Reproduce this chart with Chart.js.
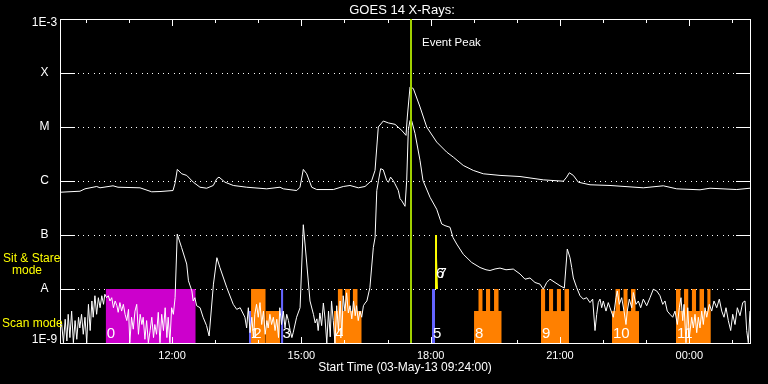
<!DOCTYPE html>
<html>
<head>
<meta charset="utf-8">
<script src="https://cdn.jsdelivr.net/npm/chart.js@4.4.1/dist/chart.umd.min.js"></script>
<style>
html,body{margin:0;padding:0;background:#000;}
canvas{display:block;}
</style>
</head>
<body>
<canvas id="c" width="768" height="384"></canvas>
<script>
// ---------------- data ----------------
const chartTitle = 'GOES 14 X-Rays:';
const xAxisTitle = 'Start Time (03-May-13 09:24:00)';
const timeRange = [9.4, 25.409];              // hours of day (09:24 -> ~01:25 next day)
const xTickHours = [12, 15, 18, 21, 24];
const xTickLabels = ['12:00', '15:00', '18:00', '21:00', '00:00'];
const yTickValues = [1e-9, 1e-8, 1e-7, 1e-6, 1e-5, 1e-4, 1e-3];
const yTickLabels = ['1E-9', 'A', 'B', 'C', 'M', 'X', '1E-3'];
const eventPeakHour = 17.537;
const eventPeakLabel = 'Event Peak';
const zoneLabels = [['Sit & Stare', 'mode'], ['Scan mode']];

// long channel (1-8 A) [hour, W/m^2]
const longChannel = [
[9.400,6.19e-7],[9.864,6.47e-7],[9.980,7.16e-7],[10.252,7.91e-7],[10.328,7.48e-7],[10.630,8.15e-7],
[10.746,7.67e-7],[11.256,7.48e-7],[11.528,6.31e-7],[11.720,6.38e-7],[12.022,6.66e-7],[12.068,8.99e-7],
[12.122,1.64e-6],[12.224,1.36e-6],[12.340,1.27e-6],[12.493,9.50e-7],[12.648,7.67e-7],[12.804,7.35e-7],
[12.957,8.26e-7],[13.036,1.10e-6],[13.089,1.18e-6],[13.228,9.50e-7],[13.421,8.26e-7],[13.732,7.67e-7],
[14.196,7.16e-7],[14.504,7.67e-7],[14.581,7.16e-7],[14.892,6.66e-7],[14.968,7.67e-7],[15.045,1.64e-6],
[15.124,1.36e-6],[15.240,7.67e-7],[15.356,6.95e-7],[15.741,6.95e-7],[15.973,7.91e-7],[16.129,8.26e-7],
[16.321,7.48e-7],[16.477,7.91e-7],[16.632,1.02e-6],[16.709,1.57e-6],[16.785,1.00e-5],[16.901,1.29e-5],
[17.017,1.19e-5],[17.173,1.12e-5],[17.328,8.67e-6],[17.428,7.00e-6],[17.458,1.53e-5],[17.521,5.53e-5],
[17.597,5.16e-5],[17.753,2.35e-5],[17.908,1.00e-5],[18.140,5.26e-6],[18.372,3.43e-6],[18.525,2.77e-6],
[18.757,1.94e-6],[18.989,1.57e-6],[19.221,1.36e-6],[19.609,1.27e-6],[20.073,1.21e-6],[20.613,1.05e-6],
[21.078,9.91e-7],[21.156,1.18e-6],[21.217,1.42e-6],[21.310,1.27e-6],[21.426,9.50e-7],[21.697,8.51e-7],
[22.161,8.26e-7],[22.934,7.48e-7],[23.398,8.15e-7],[23.709,7.16e-7],[24.249,6.87e-7],[24.481,7.35e-7],
[25.101,6.95e-7],[25.409,7.35e-7]
];

// short channel (0.5-4 A) [hour, W/m^2]
const shortChannel = [
[9.40,1.9e-9],[9.44,2.2e-9],[9.48,1.01e-9],[9.52,2.75e-9],[9.56,1.09e-9],[9.59,3.4e-9],[9.63,1.26e-9],
[9.67,3.9e-9],[9.71,1.01e-9],[9.75,2.6e-9],[9.79,1.17e-9],[9.83,3.0e-9],[9.86,1.9e-9],[9.90,3.4e-9],
[9.94,1.45e-9],[9.98,3.0e-9],[10.02,1.01e-9],[10.06,5.2e-9],[10.10,1.7e-9],[10.14,6.0e-9],[10.17,3.0e-9],
[10.21,7.5e-9],[10.25,3.4e-9],[10.29,6.9e-9],[10.33,4.5e-9],[10.37,7.5e-9],[10.41,5.2e-9],[10.44,8.0e-9],
[10.48,6.9e-9],[10.52,7.5e-9],[10.56,6.0e-9],[10.60,6.9e-9],[10.64,4.5e-9],[10.68,6.0e-9],[10.72,4.9e-9],
[10.75,3.7e-9],[10.79,5.6e-9],[10.83,3.9e-9],[10.87,5.2e-9],[10.91,3.4e-9],[10.95,2.6e-9],[10.99,4.2e-9],
[11.02,1.01e-9],[11.06,3.0e-9],[11.10,1.8e-9],[11.14,3.9e-9],[11.18,5.2e-9],[11.22,1.45e-9],[11.26,3.4e-9],
[11.30,2.2e-9],[11.33,3.0e-9],[11.37,1.17e-9],[11.41,2.6e-9],[11.45,1.01e-9],[11.49,1.7e-9],[11.53,3.0e-9],
[11.57,1.26e-9],[11.60,2.2e-9],[11.64,1.45e-9],[11.68,3.7e-9],[11.72,1.01e-9],[11.76,3.4e-9],[11.80,1.7e-9],
[11.84,4.5e-9],[11.88,1.26e-9],[11.91,3.0e-9],[11.95,1.01e-9],[11.99,4.5e-9],[12.03,3.4e-9],[12.07,6.9e-9],
[12.12,1.04e-7],[12.22,5.9e-8],[12.34,2.9e-8],[12.38,1.42e-8],[12.46,9.2e-9],[12.49,6.0e-9],[12.53,6.9e-9],
[12.57,4.9e-9],[12.65,4.5e-9],[12.72,3.0e-9],[12.80,2.1e-9],[12.86,1.35e-9],[12.96,1.23e-8],[13.04,3.8e-8],
[13.11,2.5e-8],[13.27,1.06e-8],[13.42,5.2e-9],[13.50,4.2e-9],[13.58,4.5e-9],[13.69,3.0e-9],
[13.73,1.9e-9],[13.77,4.5e-9],[13.81,1.55e-9],[13.85,3.0e-9],[13.89,1.26e-9],[13.92,3.4e-9],[13.96,5.2e-9],
[14.00,3.0e-9],[14.04,5.6e-9],[14.08,2.2e-9],[14.12,3.9e-9],[14.16,1.45e-9],[14.20,2.6e-9],[14.23,1.9e-9],
[14.27,3.4e-9],[14.31,2.2e-9],[14.35,3.0e-9],[14.39,1.7e-9],[14.43,2.75e-9],[14.47,1.26e-9],[14.50,4.5e-9],
[14.54,2.2e-9],[14.58,3.9e-9],[14.62,1.9e-9],[14.66,3.4e-9],[14.70,2.6e-9],[14.74,1.7e-9],[14.78,1.26e-9],
[14.81,1.55e-9],[14.89,3.0e-9],[14.97,4.5e-9],[15.045,1.55e-7],[15.12,3.3e-8],[15.20,6.0e-9],[15.28,3.4e-9],
[15.32,2.35e-9],[15.36,2.8e-9],[15.39,1.7e-9],[15.43,3.6e-9],[15.47,2.1e-9],[15.51,5.5e-9],[15.55,2.8e-9],
[15.59,1.0e-9],[15.63,3.9e-9],[15.67,1.3e-9],[15.70,6.0e-9],[15.74,2.6e-9],[15.78,1.0e-9],[15.82,4.9e-9],
[15.86,1.7e-9],[15.90,6.0e-9],[15.94,1.35e-9],[15.97,7.5e-9],[16.01,3.9e-9],[16.05,8.5e-9],[16.09,3.6e-9],
[16.13,4.9e-9],[16.17,2.8e-9],[16.21,6.0e-9],[16.25,3.2e-9],[16.28,4.9e-9],[16.32,2.6e-9],[16.36,3.9e-9],
[16.40,3.0e-9],[16.44,4.9e-9],[16.48,5.5e-9],[16.52,6.0e-9],[16.59,1.06e-8],[16.67,5.9e-8],[16.71,9.0e-8],
[16.75,6.66e-7],[16.79,1.02e-6],[16.84,1.69e-6],[16.90,1.61e-6],[16.98,1.02e-6],[17.02,9.5e-7],[17.07,1.18e-6],
[17.13,1.02e-6],[17.17,8.9e-7],[17.25,6.66e-7],[17.29,4.7e-7],[17.33,4.3e-7],[17.405,3.4e-7],[17.444,1.02e-6],
[17.481,8.67e-6],[17.521,1.33e-5],[17.56,1.3e-5],[17.637,7.6e-6],[17.753,2.4e-6],[17.822,1.02e-6],[17.985,5.0e-7],
[18.14,3.0e-7],[18.256,1.6e-7],[18.333,1.49e-7],[18.449,1.39e-7],[18.518,9.0e-8],[18.604,6.8e-8],[18.757,4.4e-8],
[18.952,3.1e-8],[19.145,2.5e-8],[19.284,2.27e-8],[19.377,2.2e-8],[19.493,2.35e-8],[19.609,2.44e-8],[19.748,2.27e-8],
[19.917,2.34e-8],[20.073,1.9e-8],[20.189,1.52e-8],[20.305,1.6e-8],[20.421,1.32e-8],[20.537,1.23e-8],[20.613,9.9e-9],
[20.692,1.32e-8],[20.769,1.52e-8],[20.885,1.32e-8],[21.001,1.15e-8],[21.101,1.04e-8],[21.170,5.5e-8],[21.233,3.8e-8],
[21.272,2.5e-8],[21.310,1.6e-8],[21.388,1.06e-8],[21.465,7.5e-9],[21.542,6.5e-9],[21.620,6.9e-9],[21.697,5.6e-9],
[21.759,6.5e-9],[21.813,1.7e-9],[21.852,3.4e-9],[21.889,5.6e-9],[21.929,6.5e-9],[21.968,4.5e-9],[22.005,6.0e-9],
[22.068,3.9e-9],[22.121,5.6e-9],[22.161,4.5e-9],[22.238,3.0e-9],[22.300,6.9e-9],[22.330,9.2e-9],[22.377,5.2e-9],
[22.432,6.9e-9],[22.486,3.9e-9],[22.532,2.2e-9],[22.562,3.9e-9],[22.609,6.5e-9],[22.665,4.5e-9],[22.702,8.6e-9],
[22.764,5.2e-9],[22.818,6.0e-9],[22.873,4.5e-9],[22.934,6.5e-9],[23.012,4.9e-9],[23.089,6.9e-9],[23.166,9.9e-9],
[23.245,9.2e-9],[23.321,7.5e-9],[23.384,5.2e-9],[23.437,6.0e-9],[23.490,3.9e-9],[23.553,3.4e-9],[23.616,3.0e-9],
[23.669,3.9e-9],[23.723,2.2e-9],[23.769,4.5e-9],[23.808,6.9e-9],[23.848,2.6e-9],[23.878,5.2e-9],[23.924,1.01e-9],
[23.964,4.5e-9],[24.001,1.26e-9],[24.057,3.0e-9],[24.094,1.9e-9],[24.133,3.4e-9],[24.173,1.55e-9],[24.210,3.0e-9],
[24.249,1.9e-9],[24.289,3.9e-9],[24.326,2.2e-9],[24.365,4.5e-9],[24.405,3.0e-9],[24.465,5.2e-9],[24.521,3.9e-9],
[24.574,6.0e-9],[24.637,4.5e-9],[24.697,6.5e-9],[24.753,3.9e-9],[24.806,3.0e-9],[24.852,4.5e-9],[24.906,2.6e-9],
[24.961,1.7e-9],[25.008,3.4e-9],[25.061,2.2e-9],[25.115,4.5e-9],[25.177,3.2e-9],[25.240,5.6e-9],[25.293,6.0e-9],
[25.332,1.7e-9],[25.370,1.01e-9],[25.409,3.9e-9]
];

// observing-mode segments: [kind, startHour, endHour, topLevel]
const modeSegments = [
['magenta',10.460,12.549,1e-8],
['blue',13.785,13.832,3.9e-9],
['orange',13.832,14.173,1e-8],['orange',14.173,14.504,3.9e-9],
['blue',14.528,14.581,1e-8],
['orange',15.757,16.400,3.9e-9],['orange',15.843,15.959,1e-8],['orange',16.013,16.129,1e-8],['orange',16.191,16.307,1e-8],
['blue',18.031,18.101,1e-8],
['yellow',18.101,18.147,1e-7],['yellow',18.147,18.170,3.8e-8],
['orange',19.006,19.648,3.9e-9],['orange',19.105,19.207,1e-8],['orange',19.284,19.384,1e-8],['orange',19.470,19.579,1e-8],
['orange',20.560,21.210,3.9e-9],['orange',20.560,20.660,1e-8],['orange',20.746,20.845,1e-8],['orange',20.924,21.024,1e-8],['orange',21.101,21.210,1e-8],
['orange',22.207,22.834,3.9e-9],['orange',22.284,22.393,1e-8],['orange',22.470,22.572,1e-8],['orange',22.648,22.757,1e-8],
['orange',23.692,24.497,3.9e-9],['orange',23.692,23.801,1e-8],['orange',23.878,23.982,1e-8],['orange',24.057,24.161,1e-8],['orange',24.233,24.342,1e-8],['orange',24.416,24.497,1e-8]
];
// mode numbers: [text, hour, zone]
const modeLabels = [
['0',10.46,'scan'],['1',13.80,'scan'],['2',13.86,'scan'],['3',14.54,'scan'],['4',15.757,'scan'],
['5',18.031,'scan'],['6',18.101,'stare'],['7',18.16,'stare'],['8',19.006,'scan'],['9',20.56,'scan'],
['10',22.207,'scan'],['11',23.692,'scan']
];

// ---------------- styles ----------------
const kindColor = {magenta:'#cc00cc', orange:'#ff8000', blue:'#6464ff', yellow:'#ffff00'};
const kindBase = {magenta:1e-9, orange:1e-9, blue:1e-9, yellow:1e-8};
const FONT = "'Liberation Sans', Arial, sans-serif";
Chart.defaults.font.family = FONT;
Chart.defaults.color = '#ffffff';

const toXY = arr => arr.map(p => ({x: p[0], y: p[1]}));

const datasets = [
  {data: toXY(longChannel), borderColor:'#ffffff', borderWidth:1, pointRadius:0, tension:0, fill:false, order:0},
  {data: toXY(shortChannel), borderColor:'#ffffff', borderWidth:1, pointRadius:0, tension:0, fill:false, order:0}
];
modeSegments.forEach(s => {
  datasets.push({
    data: [{x:s[1], y:s[3]}, {x:s[2], y:s[3]}],
    borderColor:'rgba(0,0,0,0)', borderWidth:0, pointRadius:0,
    backgroundColor: kindColor[s[0]], fill: {value: kindBase[s[0]]}, order: 2
  });
});

const decor = {
  id: 'decor',
  beforeDraw(chart) {
    const {ctx, width, height} = chart;
    ctx.save(); ctx.fillStyle = '#000'; ctx.fillRect(0, 0, width, height); ctx.restore();
  },
  beforeDatasetsDraw(chart) {
    const {ctx, chartArea: a, scales: {y}} = chart;
    ctx.save();
    ctx.fillStyle = '#ffffff';
    yTickValues.slice(1, -1).forEach(v => {
      const py = Math.round(y.getPixelForValue(v));
      ctx.fillRect(a.left, py, 15, 1);
      ctx.fillRect(a.right - 14, py, 14, 1);
      for (let px = a.left + 17.7; px < a.right - 16; px += 5.33) ctx.fillRect(Math.round(px), py, 1, 1);
    });
    ctx.restore();
  },
  afterDatasetsDraw(chart) {
    const {ctx, chartArea: a, scales: {x, y}} = chart;
    const L = Math.round(a.left), R = Math.round(a.right), T = Math.round(a.top), B = Math.round(a.bottom);
    ctx.save();
    // frame
    ctx.fillStyle = '#ffffff';
    ctx.fillRect(L, T, R - L + 1, 1);
    ctx.fillRect(L, B, R - L + 1, 1);
    ctx.fillRect(L, T, 1, B - T + 1);
    ctx.fillRect(R, T, 1, B - T + 1);
    // hour ticks (top & bottom, inward)
    for (let h = Math.ceil(timeRange[0]); h <= timeRange[1]; h++) {
      const px = Math.round(x.getPixelForValue(h));
      const len = (h % 3 === 0) ? 7 : 4;
      ctx.fillRect(px, T, 1, len);
      ctx.fillRect(px, B - len + 1, 1, len);
    }
    // event peak line
    const ex = Math.round(x.getPixelForValue(eventPeakHour));
    ctx.fillStyle = '#a0d000';
    ctx.fillRect(ex - 1, T, 2, B - T);
    // texts
    ctx.fillStyle = '#ffffff';
    ctx.textBaseline = 'middle';
    ctx.font = '11.5px ' + FONT;
    ctx.textAlign = 'left';
    ctx.fillText(eventPeakLabel, ex + 11, 43);
    ctx.font = '13px ' + FONT;
    ctx.textAlign = 'center';
    ctx.fillText(chartTitle, (a.left + a.right) / 2 - 3, 10);
    // y labels (ends pulled inside the frame)
    ctx.font = '12px ' + FONT;
    yTickValues.forEach((v, i) => {
      let py = y.getPixelForValue(v);
      if (i === 0) py -= 3; else if (i === yTickValues.length - 1) py += 4;
      ctx.fillText(yTickLabels[i], 44.5, py);
    });
    // zone labels
    ctx.fillStyle = '#ffff00';
    ctx.textAlign = 'left';
    ctx.font = '12px ' + FONT;
    const stareMid = (y.getPixelForValue(1e-7) + y.getPixelForValue(1e-8)) / 2;
    const scanMid = (y.getPixelForValue(1e-8) + y.getPixelForValue(1e-9)) / 2;
    ctx.fillText(zoneLabels[0][0], 3, stareMid - 3);
    ctx.fillText(zoneLabels[0][1], 12, stareMid + 9);
    ctx.fillText(zoneLabels[1][0], 2, scanMid + 8);
    // mode numbers
    ctx.fillStyle = '#ffffff';
    ctx.font = '15px ' + FONT;
    ctx.textBaseline = 'alphabetic';
    modeLabels.forEach(m => {
      const px = x.getPixelForValue(m[1]) + 1;
      const py = m[2] === 'scan' ? y.getPixelForValue(1e-9) - 5 : y.getPixelForValue(1e-8) - 11;
      ctx.fillText(m[0], px, py);
    });
    ctx.restore();
  }
};

new Chart(document.getElementById('c'), {
  type: 'line',
  data: {datasets},
  options: {
    responsive: false,
    animation: false,
    devicePixelRatio: 1,
    layout: {padding: {left: 60, right: 18, top: 19, bottom: 0}},
    plugins: {legend: {display: false}, tooltip: {enabled: false}, title: {display: false}},
    scales: {
      x: {
        type: 'linear', min: timeRange[0], max: timeRange[1],
        afterFit(s) { s.height = 41; },
        afterBuildTicks(s) { s.ticks = xTickHours.map(v => ({value: v})); },
        grid: {display: false, drawTicks: false},
        border: {display: false},
        ticks: {
          autoSkip: false, maxRotation: 0, padding: 6, color: '#ffffff',
          font: {size: 11, family: FONT},
          callback: (v, i) => xTickLabels[i]
        },
        title: {display: true, text: xAxisTitle, color: '#ffffff', font: {size: 12, family: FONT}, padding: {top: 0, bottom: 9}}
      },
      y: {
        type: 'logarithmic', min: 1e-9, max: 1e-3, display: false
      }
    }
  },
  plugins: [decor]
});
</script>
</body>
</html>
